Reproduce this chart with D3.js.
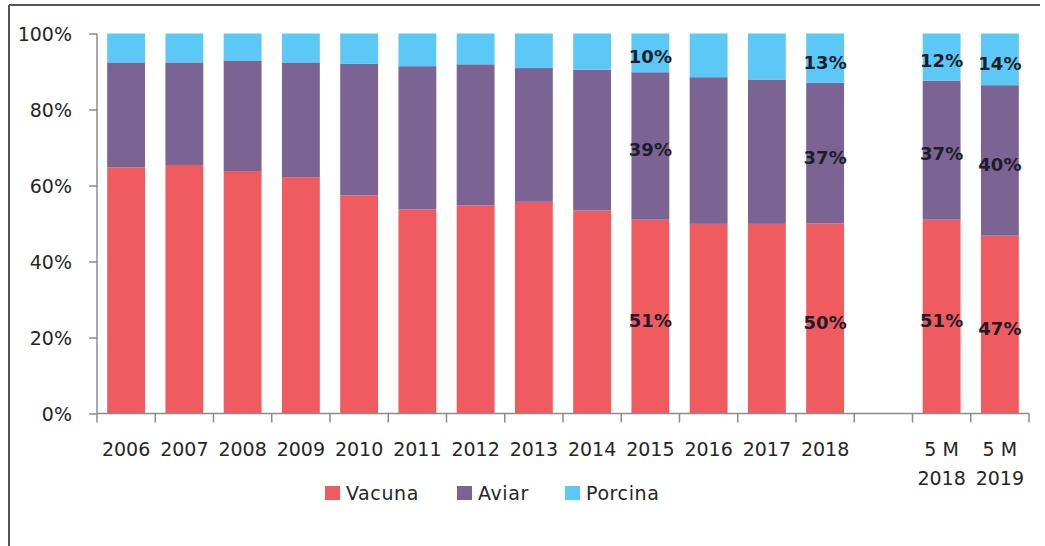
<!DOCTYPE html>
<html>
<head>
<meta charset="utf-8">
<script src="https://cdn.jsdelivr.net/npm/d3@7"></script>
<style>
  html, body { margin: 0; padding: 0; background: #fff; }
  svg { display: block; font-family: "DejaVu Sans", Verdana, sans-serif; }
</style>
</head>
<body>
<svg id="chart" width="1045" height="546"></svg>
<script>
// ---- data ----
const categories = ["2006","2007","2008","2009","2010","2011","2012","2013","2014","2015","2016","2017","2018","","5 M\n2018","5 M\n2019"];
const vacuna  = [64.8, 65.4, 63.8, 62.2, 57.4, 53.7, 54.8, 55.7, 53.4, 51.0, 49.9, 49.9, 50.0, null, 51.0, 46.8];
const aviar   = [27.6, 27.0, 29.1, 30.2, 34.6, 37.7, 37.1, 35.2, 37.1, 38.8, 38.6, 38.0, 37.0, null, 36.6, 39.6];
const porcina = [ 7.6,  7.6,  7.1,  7.6,  8.0,  8.6,  8.1,  9.1,  9.5, 10.2, 11.5, 12.1, 13.0, null, 12.4, 13.6];
const seriesNames = ["Vacuna", "Aviar", "Porcina"];
const labeledCategories = ["2015", "2018", "5 M\n2018", "5 M\n2019"];
const yTicks = [0, 20, 40, 60, 80, 100];

const colors = { Vacuna: "#EF5B5F", Aviar: "#7B6493", Porcina: "#5CC8F5" };

// ---- layout ----
const svg = d3.select("#chart");
const x0 = 97, x1 = 1029, yBottom = 413.5, yTop = 33.5;

const x = d3.scaleBand().domain(d3.range(categories.length)).range([x0, x1]).paddingInner(0.35).paddingOuter(0.175);
const y = d3.scaleLinear().domain([0, 100]).range([yBottom, yTop]);

// frame
svg.append("line").attr("x1", 9).attr("x2", 1040).attr("y1", 5).attr("y2", 5)
  .attr("stroke", "#555").attr("stroke-width", 2);
svg.append("line").attr("x1", 9).attr("x2", 9).attr("y1", 5).attr("y2", 546)
  .attr("stroke", "#555").attr("stroke-width", 2);

// stacked data
const rows = categories.map((c, i) => ({ i, cat: c, Vacuna: vacuna[i], Aviar: aviar[i], Porcina: porcina[i] }));
const valid = rows.filter(r => r.Vacuna != null);
const stack = d3.stack().keys(seriesNames);
const stacked = stack(valid);

const g = svg.append("g");
stacked.forEach(layer => {
  g.selectAll(null).data(layer).enter().append("rect")
    .attr("x", d => x(d.data.i))
    .attr("width", x.bandwidth())
    .attr("y", d => y(d[1]))
    .attr("height", d => y(d[0]) - y(d[1]))
    .attr("fill", colors[layer.key]);
});

// axes
const axisColor = "#8c8c8c";
const yAxis = svg.append("g").attr("transform", `translate(${x0},0)`)
  .call(d3.axisLeft(y).tickValues(yTicks).tickSize(8).tickFormat(d => d + "%"));
yAxis.select(".domain").attr("stroke", axisColor).attr("stroke-width", 1.5).attr("d", `M0,${yTop}V${yBottom}`);
yAxis.selectAll(".tick line").attr("stroke", axisColor).attr("stroke-width", 1.5);
yAxis.selectAll(".tick text").attr("x", -25).attr("font-size", 19).attr("fill", "#262626")
  .attr("font-family", "DejaVu Sans, Verdana, sans-serif").attr("dy", "0.35em");

// x axis line + boundary ticks
const step = x.step();
svg.append("line").attr("x1", x0).attr("x2", x1).attr("y1", yBottom).attr("y2", yBottom)
  .attr("stroke", axisColor).attr("stroke-width", 1.5);
svg.selectAll(null).data(d3.range(categories.length + 1)).enter().append("line")
  .attr("x1", i => x0 + i * step).attr("x2", i => x0 + i * step)
  .attr("y1", yBottom).attr("y2", yBottom + 9)
  .attr("stroke", axisColor).attr("stroke-width", 1.5);

// x labels
rows.forEach(r => {
  const lines = r.cat.split("\n");
  const t = svg.append("text").attr("x", x(r.i) + x.bandwidth() / 2).attr("y", 456)
    .attr("text-anchor", "middle").attr("font-size", 19).attr("fill", "#262626");
  lines.forEach((ln, k) => {
    t.append("tspan").attr("x", x(r.i) + x.bandwidth() / 2).attr("dy", k === 0 ? 0 : 29).text(ln);
  });
});

// data labels
stacked.forEach(layer => {
  layer.filter(d => labeledCategories.includes(d.data.cat)).forEach(d => {
    const v = d[1] - d[0];
    svg.append("text")
      .attr("x", x(d.data.i) + x.bandwidth() / 2)
      .attr("y", (y(d[0]) + y(d[1])) / 2 + 4)
      .attr("dy", "0.35em")
      .attr("text-anchor", "middle")
      .attr("font-size", 18).attr("font-weight", "bold").attr("fill", "#1d1d2b")
      .text(Math.round(v) + "%");
  });
});

// legend
const legendPos = [{ name: "Vacuna", sx: 325 }, { name: "Aviar", sx: 457 }, { name: "Porcina", sx: 565 }];
legendPos.forEach(l => {
  svg.append("rect").attr("x", l.sx).attr("y", 486).attr("width", 15).attr("height", 14).attr("fill", colors[l.name]);
  svg.append("text").attr("x", l.sx + 21).attr("y", 493).attr("dy", "0.35em")
    .attr("font-size", 19).attr("fill", "#262626").attr("letter-spacing", 0.6).text(l.name);
});
</script>
</body>
</html>
